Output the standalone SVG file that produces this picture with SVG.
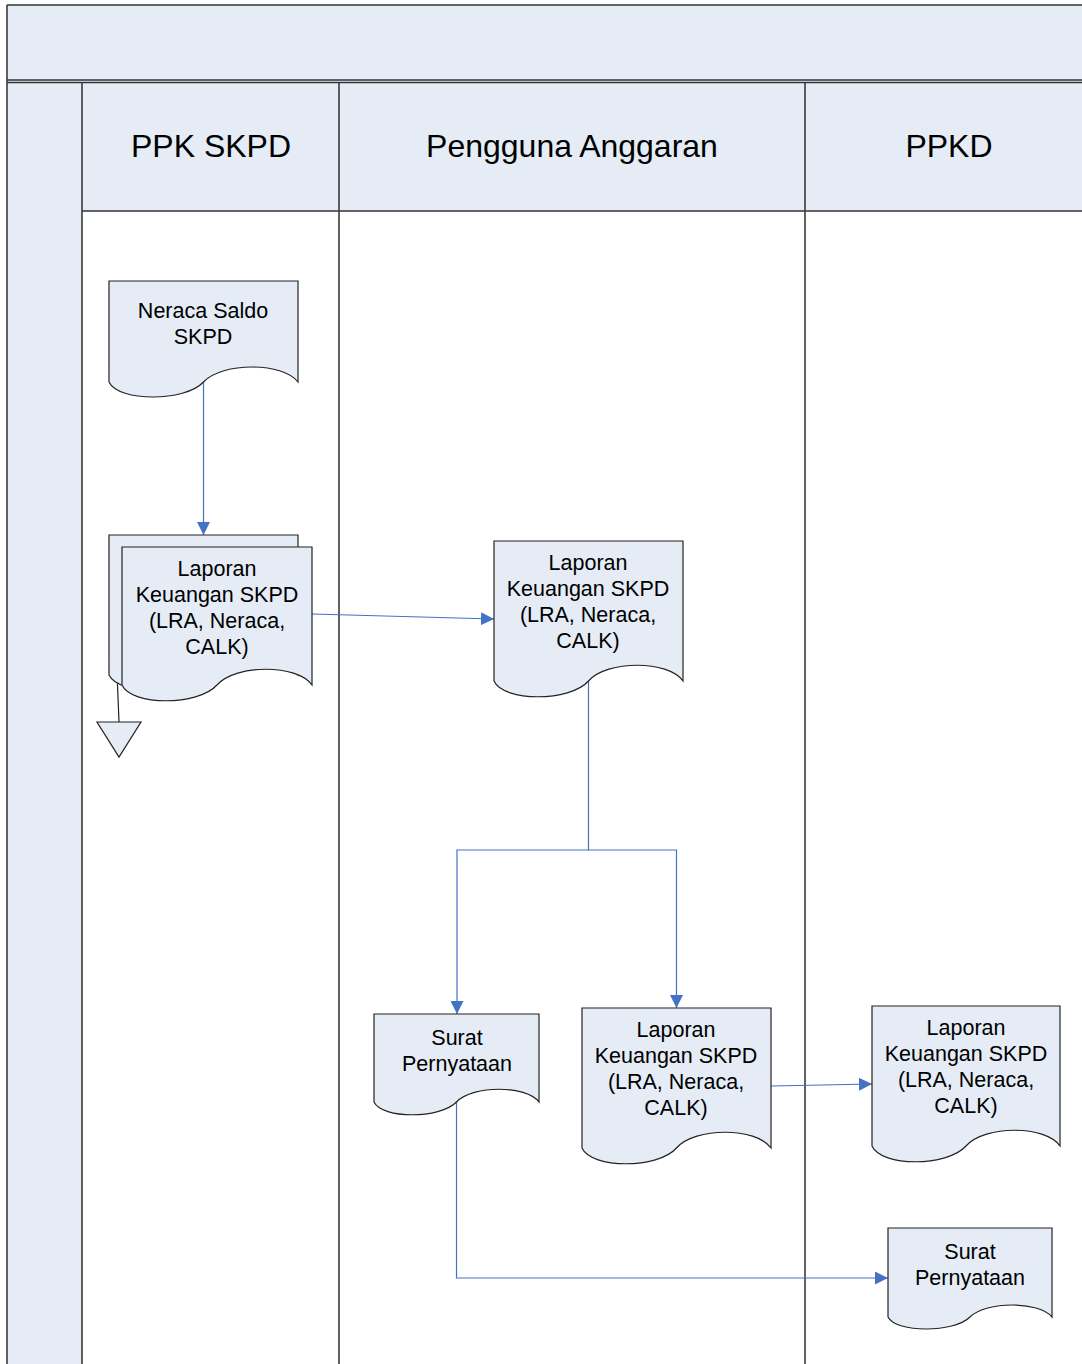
<svg xmlns="http://www.w3.org/2000/svg" width="1082" height="1364" viewBox="0 0 1082 1364">
  <style>
    .band { fill: #E5ECF6; stroke: none; }
    .rule { stroke: #333333; stroke-width: 1.3; fill: none; }
    .lane { stroke: #3a3a3a; stroke-width: 1.6; fill: none; }
    .doc { fill: #E5ECF6; stroke: #222222; stroke-width: 1.2; }
    .hdr { font-family: "Liberation Sans", Arial, sans-serif; font-size: 32px; fill: #000; text-anchor: middle; }
    .lbl { font-family: "Liberation Sans", Arial, sans-serif; font-size: 21.5px; fill: #000; text-anchor: middle; }
    .flow { stroke: #4472C4; stroke-width: 1.2; fill: none; }
    .off { stroke: #222222; stroke-width: 1.2; fill: none; }
  </style>
  <defs>
    <marker id="arrow" viewBox="0 0 10 10" refX="10" refY="5" markerWidth="13" markerHeight="13" markerUnits="userSpaceOnUse" orient="auto">
      <path d="M0,0 L10,5 L0,10 z" fill="#4472C4"/>
    </marker>
  </defs>

  <rect width="1082" height="1364" fill="#ffffff"/>

  <!-- pool frame and lanes -->
  <g id="pool">
    <rect class="band" x="7" y="5" width="1075" height="77"/>
    <rect class="band" x="7" y="82" width="75" height="1282"/>
    <rect class="band" x="82" y="82" width="1000" height="129"/>
    <line class="rule" x1="7" y1="5" x2="1082" y2="5"/>
    <line class="rule" x1="7" y1="80" x2="1082" y2="80"/>
    <line class="rule" x1="7" y1="82.5" x2="1082" y2="82.5"/>
    <line class="rule" x1="82" y1="211" x2="1082" y2="211"/>
    <line class="lane" x1="7" y1="5" x2="7" y2="1364"/>
    <line class="lane" x1="82" y1="82" x2="82" y2="1364"/>
    <line class="lane" x1="339" y1="82" x2="339" y2="1364"/>
    <line class="lane" x1="805" y1="82" x2="805" y2="1364"/>
    <text class="hdr" x="211" y="157">PPK SKPD</text>
    <text class="hdr" x="572" y="157">Pengguna Anggaran</text>
    <text class="hdr" x="949" y="157">PPKD</text>
  </g>

  <!-- connectors -->
  <g id="connectors">
    <path class="flow" d="M203.5,382 V535" marker-end="url(#arrow)"/>
    <path class="flow" d="M312,614 L494,619" marker-end="url(#arrow)"/>
    <path class="flow" d="M588.5,681 V850 H457 V1014" marker-end="url(#arrow)"/>
    <path class="flow" d="M588.5,850 H676.5 V1008" marker-end="url(#arrow)"/>
    <path class="flow" d="M771,1086 L872,1084" marker-end="url(#arrow)"/>
    <path class="flow" d="M456.5,1102 V1278 H888" marker-end="url(#arrow)"/>
    <path class="off" d="M117,673 L119,722"/>
  </g>

  <!-- nodes -->
  <g id="neraca-saldo">
    <path class="doc" d="M109,281 H298 V382 C283,362 222,362 203.5,382 C185,402 118.5,402 109,382 Z"/>
    <text class="lbl" x="203" y="318">Neraca Saldo</text>
    <text class="lbl" x="203" y="344">SKPD</text>
  </g>

  <g id="laporan-ppk">
    <path class="doc" d="M109,535 H298 V675 C283,655 222,655 203.5,675 C185,695 118.5,695 109,675 Z"/>
    <path class="doc" d="M122,547 H312 V685 C297,664 236,664 217,685 C198,706 131.5,706 122,685 Z"/>
    <text class="lbl" x="217" y="576">Laporan</text>
    <text class="lbl" x="217" y="602">Keuangan SKPD</text>
    <text class="lbl" x="217" y="628">(LRA, Neraca,</text>
    <text class="lbl" x="217" y="654">CALK)</text>
  </g>

  <g id="off-page">
    <path class="doc" d="M97,722 H141 L119,757 Z"/>
  </g>

  <g id="laporan-pa">
    <path class="doc" d="M494,541 H683 V681 C668,660 607,660 588.5,681 C570,702 503.5,702 494,681 Z"/>
    <text class="lbl" x="588" y="570">Laporan</text>
    <text class="lbl" x="588" y="596">Keuangan SKPD</text>
    <text class="lbl" x="588" y="622">(LRA, Neraca,</text>
    <text class="lbl" x="588" y="648">CALK)</text>
  </g>

  <g id="surat-pa">
    <path class="doc" d="M374,1014 H539 V1102 C526,1085 473,1085 456.5,1102 C440,1119 382,1119 374,1102 Z"/>
    <text class="lbl" x="457" y="1045">Surat</text>
    <text class="lbl" x="457" y="1071">Pernyataan</text>
  </g>

  <g id="laporan-pa-out">
    <path class="doc" d="M582,1008 H771 V1148 C756,1127 695,1127 676.5,1148 C658,1169 591.5,1169 582,1148 Z"/>
    <text class="lbl" x="676" y="1037">Laporan</text>
    <text class="lbl" x="676" y="1063">Keuangan SKPD</text>
    <text class="lbl" x="676" y="1089">(LRA, Neraca,</text>
    <text class="lbl" x="676" y="1115">CALK)</text>
  </g>

  <g id="laporan-ppkd">
    <path class="doc" d="M872,1006 H1060 V1146 C1045,1125 985,1125 966,1146 C947,1167 881.4,1167 872,1146 Z"/>
    <text class="lbl" x="966" y="1035">Laporan</text>
    <text class="lbl" x="966" y="1061">Keuangan SKPD</text>
    <text class="lbl" x="966" y="1087">(LRA, Neraca,</text>
    <text class="lbl" x="966" y="1113">CALK)</text>
  </g>

  <g id="surat-ppkd">
    <path class="doc" d="M888,1228 H1052 V1317 C1039,1301 986,1301 970,1317 C954,1333 896,1333 888,1317 Z"/>
    <text class="lbl" x="970" y="1259">Surat</text>
    <text class="lbl" x="970" y="1285">Pernyataan</text>
  </g>
</svg>
